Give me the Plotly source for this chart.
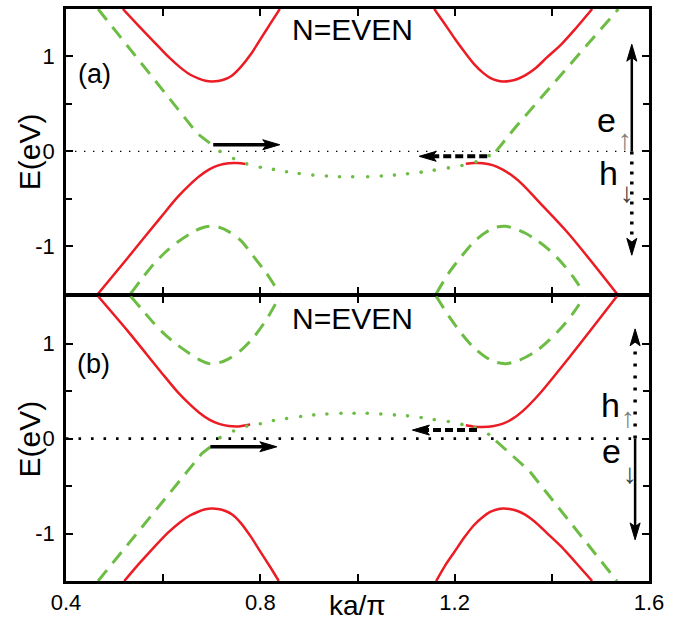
import plotly.graph_objects as go

# ---------------- data ----------------
# panel (a)
red_a_upL_x = [0.517, 0.55, 0.58, 0.61, 0.635, 0.655, 0.672, 0.687, 0.70, 0.713, 0.727, 0.742, 0.76, 0.78, 0.80, 0.82, 0.84]
red_a_upL_y = [1.5, 1.32, 1.16, 1.00, 0.885, 0.81, 0.77, 0.745, 0.737, 0.742, 0.76, 0.80, 0.89, 1.02, 1.18, 1.34, 1.5]
red_a_upR_x = [1.158, 1.18, 1.20, 1.22, 1.24, 1.258, 1.273, 1.287, 1.30, 1.313, 1.328, 1.345, 1.365, 1.39, 1.42, 1.45, 1.483]
red_a_upR_y = [1.5, 1.34, 1.19, 1.05, 0.92, 0.83, 0.775, 0.747, 0.737, 0.742, 0.76, 0.80, 0.87, 0.99, 1.13, 1.30, 1.5]
red_a_lowL_x = [0.466, 0.526, 0.595, 0.63, 0.655, 0.675, 0.695, 0.715, 0.735, 0.752, 0.769]
red_a_lowL_y = [-1.5, -1.128, -0.695, -0.48, -0.35, -0.26, -0.19, -0.145, -0.124, -0.122, -0.132]
red_a_lowR_x = [1.223, 1.24, 1.258, 1.278, 1.298, 1.318, 1.34, 1.373, 1.435, 1.534]
red_a_lowR_y = [-0.13, -0.122, -0.124, -0.145, -0.19, -0.255, -0.35, -0.53, -0.87, -1.5]
green_a_humpL_x = [0.533, 0.555, 0.58, 0.605, 0.63, 0.655, 0.675, 0.695, 0.715, 0.735, 0.76, 0.785, 0.812, 0.84]
green_a_humpL_y = [-1.5, -1.35, -1.19, -1.06, -0.955, -0.87, -0.815, -0.79, -0.80, -0.845, -0.94, -1.10, -1.28, -1.5]
green_a_humpR_x = [1.162, 1.188, 1.215, 1.24, 1.265, 1.285, 1.305, 1.325, 1.345, 1.37, 1.395, 1.42, 1.445, 1.467]
green_a_humpR_y = [-1.5, -1.28, -1.10, -0.95, -0.85, -0.80, -0.79, -0.815, -0.86, -0.94, -1.04, -1.17, -1.33, -1.5]
green_a_dashL_x = [0.466, 0.615, 0.67, 0.70]
green_a_dashL_y = [1.5, 0.54, 0.19, 0.07]
green_a_dashR_x = [1.285, 1.326, 1.537]
green_a_dashR_y = [0.0, 0.26, 1.5]
green_a_dot_x = [0.717, 0.745, 0.772, 0.80, 0.827, 0.854, 0.88, 0.908, 0.936, 0.963, 0.99,
                 1.021, 1.049, 1.076, 1.103, 1.131, 1.158, 1.187, 1.215, 1.244, 1.271]
green_a_dot_y = [0.0, -0.076, -0.132, -0.167, -0.19, -0.215, -0.233, -0.25, -0.26, -0.268, -0.268,
                 -0.268, -0.26, -0.25, -0.236, -0.219, -0.198, -0.174, -0.149, -0.111, -0.045]

# panel (b)
red_b_upL_x = [0.466, 0.526, 0.595, 0.63, 0.655, 0.675, 0.695, 0.715, 0.735, 0.755, 0.779]
red_b_upL_y = [1.5, 1.14, 0.705, 0.49, 0.36, 0.27, 0.20, 0.155, 0.132, 0.128, 0.148]
red_b_upR_x = [1.223, 1.24, 1.258, 1.278, 1.298, 1.318, 1.34, 1.373, 1.435, 1.534]
red_b_upR_y = [0.14, 0.126, 0.122, 0.13, 0.155, 0.205, 0.29, 0.462, 0.85, 1.5]
red_b_lowL_x = [0.52, 0.55, 0.58, 0.61, 0.635, 0.655, 0.672, 0.687, 0.70, 0.713, 0.727, 0.742, 0.76, 0.78, 0.80, 0.82, 0.838]
red_b_lowL_y = [-1.5, -1.32, -1.15, -0.99, -0.88, -0.81, -0.77, -0.745, -0.737, -0.742, -0.76, -0.80, -0.89, -1.03, -1.19, -1.35, -1.5]
red_b_lowR_x = [1.162, 1.18, 1.20, 1.22, 1.24, 1.258, 1.273, 1.287, 1.30, 1.313, 1.328, 1.345, 1.365, 1.39, 1.42, 1.45, 1.483]
red_b_lowR_y = [-1.5, -1.34, -1.19, -1.04, -0.91, -0.825, -0.772, -0.746, -0.737, -0.742, -0.76, -0.80, -0.875, -0.995, -1.14, -1.31, -1.5]
green_b_UL_x = [0.533, 0.555, 0.58, 0.605, 0.63, 0.655, 0.675, 0.695, 0.715, 0.735, 0.76, 0.785, 0.812, 0.84]
green_b_UL_y = [1.5, 1.37, 1.22, 1.09, 0.985, 0.895, 0.83, 0.79, 0.80, 0.84, 0.93, 1.06, 1.25, 1.5]
green_b_UR_x = [1.162, 1.188, 1.215, 1.24, 1.265, 1.285, 1.305, 1.325, 1.345, 1.37, 1.395, 1.42, 1.445, 1.467]
green_b_UR_y = [1.5, 1.29, 1.10, 0.955, 0.855, 0.805, 0.79, 0.81, 0.855, 0.93, 1.04, 1.17, 1.33, 1.5]
green_b_dashL_x = [0.466, 0.615, 0.68, 0.70]
green_b_dashL_y = [-1.5, -0.5625, -0.155, -0.076]
green_b_dashR_x = [1.285, 1.31, 1.353, 1.534]
green_b_dashR_y = [-0.024, -0.14, -0.336, -1.5]
green_b_dot_x = [0.717, 0.745, 0.772, 0.80, 0.827, 0.854, 0.883, 0.91, 0.937, 0.966, 0.993,
                 1.02, 1.048, 1.076, 1.103, 1.131, 1.158, 1.187, 1.215, 1.242, 1.27]
green_b_dot_y = [0.01, 0.08, 0.132, 0.156, 0.191, 0.2125, 0.233, 0.25, 0.26, 0.268, 0.268,
                 0.268, 0.26, 0.25, 0.24, 0.223, 0.2, 0.18, 0.15, 0.115, 0.046]

# arrows: (tail x, tail y, tip x, tip y)
arrows_a = {"h_solid": (0.703, 0.07, 0.84, 0.07),
            "h_dash": (1.267, -0.052, 1.127, -0.052),
            "v_solid": (1.5646, 0.0, 1.5646, 1.128),
            "v_dot": (1.5646, 0.0, 1.5646, -1.094)}
arrows_b = {"h_solid": (0.697, -0.086, 0.834, -0.086),
            "h_dash": (1.246, 0.09, 1.113, 0.09),
            "v_dot": (1.5714, 0.0, 1.5714, 1.156),
            "v_solid": (1.5714, 0.0, 1.5714, -1.066)}
zero_a_x = [0.4, 1.5646]
zero_b_x = [0.4, 1.5714]

xtick_vals = [0.4, 0.8, 1.2, 1.6]
xtick_text = ["0.4", "0.8", "1.2", "1.6"]
xminor_vals = [0.6, 1.0, 1.4]
ytick_vals = [-1, 0, 1]
ytick_text = ["-1", "0", "1"]
yminor_vals = [-0.5, 0.5]

# ---------------- figure ----------------
W, H = 682, 629
ML, MR, MT, MB = 66, 33, 6, 48
GAP = 2.5   # pixel gap so the two frame lines overlap into one
XR = [0.4, 1.6]
YR = [-1.5, 1.5]
plot_h = H - MT - MB
panel_h = (plot_h - GAP) / 2
px_x = (W - ML - MR) / (XR[1] - XR[0])
px_y = panel_h / (YR[1] - YR[0])
dom_top = [(panel_h + GAP) / plot_h, 1]
dom_bot = [0, panel_h / plot_h]

RED = '#ec1c24'
GREEN = '#6dbd45'
FONT = 'Liberation Sans, Arial, sans-serif'

fig = go.Figure()


def curve(x, y, color, width, dash, xa, ya, spline=True):
    fig.add_trace(go.Scatter(x=x, y=y, mode='lines',
                             line=dict(color=color, width=width, dash=dash,
                                       shape='spline' if spline else 'linear', smoothing=0.8),
                             xaxis=xa, yaxis=ya, hoverinfo='skip', showlegend=False))


def dots(x, y, xa, ya):
    fig.add_trace(go.Scatter(x=x, y=y, mode='markers',
                             marker=dict(color=GREEN, size=3.6, line=dict(width=0)),
                             xaxis=xa, yaxis=ya, hoverinfo='skip', showlegend=False))


def arrow(spec, dash, width, xa, ya, L=17, Wd=10):
    x0, y0, x1, y1 = spec
    dxp = (x1 - x0) * px_x
    dyp = (y1 - y0) * px_y
    n = (dxp ** 2 + dyp ** 2) ** 0.5
    ux, uy = dxp / n, dyp / n
    sx = x1 - ux * L * 0.75 / px_x
    sy = y1 - uy * L * 0.75 / px_y
    fig.add_trace(go.Scatter(x=[x0, sx], y=[y0, sy], mode='lines',
                             line=dict(color='black', width=width, dash=dash),
                             xaxis=xa, yaxis=ya, hoverinfo='skip', showlegend=False))
    nx, ny = -uy, ux
    pts = [(0, 0), (-ux * L + nx * Wd / 2, -uy * L + ny * Wd / 2),
           (-ux * L * 0.78, -uy * L * 0.78),
           (-ux * L - nx * Wd / 2, -uy * L - ny * Wd / 2), (0, 0)]
    fig.add_trace(go.Scatter(x=[x1 + p[0] / px_x for p in pts],
                             y=[y1 + p[1] / px_y for p in pts],
                             mode='lines', fill='toself', fillcolor='black',
                             line=dict(color='black', width=1),
                             xaxis=xa, yaxis=ya, hoverinfo='skip', showlegend=False))


GD = '14px,9px'
# panel (a)
curve(zero_a_x, [0, 0], 'black', 1.4, '1.4px,7.6px', 'x', 'y', False)
curve(red_a_upL_x, red_a_upL_y, RED, 2.5, 'solid', 'x', 'y')
curve(red_a_upR_x, red_a_upR_y, RED, 2.5, 'solid', 'x', 'y')
curve(red_a_lowL_x, red_a_lowL_y, RED, 2.5, 'solid', 'x', 'y')
curve(red_a_lowR_x, red_a_lowR_y, RED, 2.5, 'solid', 'x', 'y')
curve(green_a_humpL_x, green_a_humpL_y, GREEN, 3, GD, 'x', 'y')
curve(green_a_humpR_x, green_a_humpR_y, GREEN, 3, GD, 'x', 'y')
curve(green_a_dashL_x, green_a_dashL_y, GREEN, 3, GD, 'x', 'y', False)
curve(green_a_dashR_x, green_a_dashR_y, GREEN, 3, GD, 'x', 'y', False)
dots(green_a_dot_x, green_a_dot_y, 'x', 'y')
arrow(arrows_a["h_solid"], 'solid', 3.5, 'x', 'y')
arrow(arrows_a["h_dash"], '8px,4px', 4, 'x', 'y')
arrow(arrows_a["v_solid"], 'solid', 2.5, 'x', 'y')
arrow(arrows_a["v_dot"], '3px,7px', 3.5, 'x', 'y')

# panel (b)
curve(zero_b_x, [0, 0], 'black', 2.6, '2.6px,9.9px', 'x2', 'y2', False)
curve(red_b_upL_x, red_b_upL_y, RED, 2.5, 'solid', 'x2', 'y2')
curve(red_b_upR_x, red_b_upR_y, RED, 2.5, 'solid', 'x2', 'y2')
curve(red_b_lowL_x, red_b_lowL_y, RED, 2.5, 'solid', 'x2', 'y2')
curve(red_b_lowR_x, red_b_lowR_y, RED, 2.5, 'solid', 'x2', 'y2')
curve(green_b_UL_x, green_b_UL_y, GREEN, 3, GD, 'x2', 'y2')
curve(green_b_UR_x, green_b_UR_y, GREEN, 3, GD, 'x2', 'y2')
curve(green_b_dashL_x, green_b_dashL_y, GREEN, 3, GD, 'x2', 'y2', False)
curve(green_b_dashR_x, green_b_dashR_y, GREEN, 3, GD, 'x2', 'y2', False)
dots(green_b_dot_x, green_b_dot_y, 'x2', 'y2')
arrow(arrows_b["h_solid"], 'solid', 3.5, 'x2', 'y2')
arrow(arrows_b["h_dash"], '8px,4px', 4, 'x2', 'y2')
arrow(arrows_b["v_dot"], '3px,9px', 3.5, 'x2', 'y2')
arrow(arrows_b["v_solid"], 'solid', 2.5, 'x2', 'y2')

tickfont = dict(family=FONT, size=22, color='black')
axis_common = dict(showline=True, linecolor='black', linewidth=2.5, mirror='allticks',
                   ticks='inside', ticklen=7, tickwidth=2, tickcolor='black',
                   showgrid=False, zeroline=False, tickfont=tickfont)
xaxis_common = dict(axis_common, range=XR, tickmode='array', tickvals=xtick_vals, ticktext=xtick_text,
                    minor=dict(tickmode='array', tickvals=xminor_vals, ticks='inside', ticklen=7,
                               tickwidth=2, tickcolor='black', showgrid=False))
yaxis_common = dict(axis_common, range=YR, tickmode='array', tickvals=ytick_vals, ticktext=ytick_text,
                    ticklabelstandoff=4,
                    minor=dict(tickmode='array', tickvals=yminor_vals, ticks='inside', ticklen=6,
                               tickwidth=2, tickcolor='black', showgrid=False))

fig.update_layout(
    width=W, height=H,
    margin=dict(l=ML, r=MR, t=MT, b=MB),
    plot_bgcolor='white', paper_bgcolor='white',
    showlegend=False,
    xaxis=dict(xaxis_common, domain=[0, 1], anchor='y', showticklabels=False),
    yaxis=dict(yaxis_common, domain=dom_top, anchor='x'),
    xaxis2=dict(xaxis_common, domain=[0, 1], anchor='y2', showticklabels=True),
    yaxis2=dict(yaxis_common, domain=dom_bot, anchor='x2'),
)

ann = []


def text(t, x, y, xref, yref, size, color='black', angle=0, family=FONT):
    ann.append(dict(text=t, x=x, y=y, xref=xref, yref=yref, showarrow=False,
                    textangle=angle, xanchor='center', yanchor='middle',
                    font=dict(family=family, size=size, color=color)))


text('N=EVEN', 0.99, 1.28, 'x', 'y', 30)
text('N=EVEN', 0.99, 1.27, 'x2', 'y2', 30)
text('(a)', 0.458, 0.81, 'x', 'y', 27)
text('(b)', 0.457, 0.79, 'x2', 'y2', 27)
text('E(eV)', -0.062, 0, 'paper', 'y', 30, angle=-90)
text('E(eV)', -0.062, 0, 'paper', 'y2', 30, angle=-90)
text('ka/π', 1.0, -0.042, 'x2', 'paper', 28)
# e / h labels with small spin arrows
text('e', 1.5127, 0.33, 'x', 'y', 34)
text('↑', 1.5505, 0.13, 'x', 'y', 28, '#808080')
text('h', 1.517, -0.226, 'x', 'y', 34)
text('↓', 1.5545, -0.43, 'x', 'y', 28, '#404040')
text('h', 1.52, 0.358, 'x2', 'y2', 34)
text('↑', 1.5575, 0.222, 'x2', 'y2', 28, '#808080')
text('e', 1.5236, -0.13, 'x2', 'y2', 34)
text('↓', 1.561, -0.371, 'x2', 'y2', 28, '#404040')

fig.update_layout(annotations=ann)
fig.write_html("out.html")
